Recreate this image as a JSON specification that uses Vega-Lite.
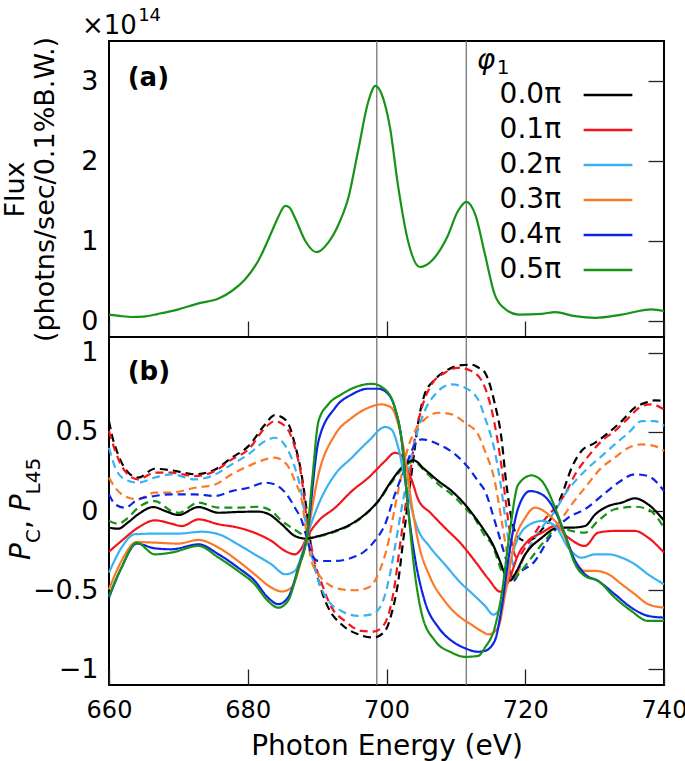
{
"$schema": "https://vega.github.io/schema/vega-lite/v6.json",
"padding": {"left": 0, "top": 6, "right": 3, "bottom": 0},
"background": "white",
"spacing": 0,
"bounds": "flush",
"config": {
  "font": "DejaVu Sans",
  "view": {"stroke": "black", "strokeWidth": 2},
  "axis": {"domain": false, "ticks": false, "grid": true, "gridColor": "#222222", "gridWidth": 1.3, "gridOpacity": 1, "labelFontSize": 27, "labelColor": "black", "titleFontWeight": "normal", "titleColor": "black", "labelFlush": false, "labelOverlap": false}
},
"resolve": {"legend": {"color": "independent", "strokeDash": "independent"}},
"datasets": {
  "vl": [{"e": 698.6}, {"e": 711.5}],
  "flux": [
    {"p":"0.5π","e":660.0,"f":0.08},{"p":"0.5π","e":661.5,"f":0.065},{"p":"0.5π","e":663.3,"f":0.05},{"p":"0.5π","e":665.0,"f":0.055},{"p":"0.5π","e":667.1,"f":0.09},{"p":"0.5π","e":670.0,"f":0.146},{"p":"0.5π","e":672.9,"f":0.22},{"p":"0.5π","e":675.8,"f":0.28},{"p":"0.5π","e":677.7,"f":0.375},{"p":"0.5π","e":679.6,"f":0.52},{"p":"0.5π","e":681.5,"f":0.75},{"p":"0.5π","e":683.5,"f":1.125},{"p":"0.5π","e":684.5,"f":1.32},{"p":"0.5π","e":685.4,"f":1.44},{"p":"0.5π","e":686.0,"f":1.42},{"p":"0.5π","e":686.8,"f":1.29},{"p":"0.5π","e":688.3,"f":1.0},{"p":"0.5π","e":689.9,"f":0.86},{"p":"0.5π","e":691.6,"f":0.98},{"p":"0.5π","e":693.1,"f":1.21},{"p":"0.5π","e":694.5,"f":1.54},{"p":"0.5π","e":695.9,"f":2.125},{"p":"0.5π","e":697.4,"f":2.75},{"p":"0.5π","e":698.4,"f":2.94},{"p":"0.5π","e":699.5,"f":2.79},{"p":"0.5π","e":700.5,"f":2.42},{"p":"0.5π","e":701.7,"f":1.67},{"p":"0.5π","e":703.1,"f":1.0},{"p":"0.5π","e":704.8,"f":0.675},{"p":"0.5π","e":706.7,"f":0.77},{"p":"0.5π","e":708.7,"f":1.04},{"p":"0.5π","e":710.3,"f":1.375},{"p":"0.5π","e":711.5,"f":1.49},{"p":"0.5π","e":712.8,"f":1.33},{"p":"0.5π","e":714.2,"f":0.83},{"p":"0.5π","e":715.6,"f":0.33},{"p":"0.5π","e":717.1,"f":0.15},{"p":"0.5π","e":719.0,"f":0.08},{"p":"0.5π","e":722.4,"f":0.09},{"p":"0.5π","e":724.3,"f":0.11},{"p":"0.5π","e":727.2,"f":0.06},{"p":"0.5π","e":730.1,"f":0.04},{"p":"0.5π","e":733.9,"f":0.08},{"p":"0.5π","e":738.2,"f":0.145},{"p":"0.5π","e":740.0,"f":0.125}
  ],
  "pol": [
    {"p":"0.0π","k":"L45","e":660,"v":0.568},{"p":"0.0π","k":"L45","e":660.4,"v":0.484},{"p":"0.0π","k":"L45","e":661.3,"v":0.358},{"p":"0.0π","k":"L45","e":662.8,"v":0.242},{"p":"0.0π","k":"L45","e":664.2,"v":0.211},{"p":"0.0π","k":"L45","e":666.6,"v":0.267},{"p":"0.0π","k":"L45","e":669,"v":0.257},{"p":"0.0π","k":"L45","e":672.4,"v":0.232},{"p":"0.0π","k":"L45","e":675.3,"v":0.263},{"p":"0.0π","k":"L45","e":677.7,"v":0.337},{"p":"0.0π","k":"L45","e":680.1,"v":0.41},{"p":"0.0π","k":"L45","e":682.5,"v":0.547},{"p":"0.0π","k":"L45","e":683.9,"v":0.606},{"p":"0.0π","k":"L45","e":685.6,"v":0.57},{"p":"0.0π","k":"L45","e":686.8,"v":0.42},{"p":"0.0π","k":"L45","e":687.8,"v":0.22},{"p":"0.0π","k":"L45","e":688.5,"v":0.0},{"p":"0.0π","k":"L45","e":689.2,"v":-0.25},{"p":"0.0π","k":"L45","e":690.2,"v":-0.44},{"p":"0.0π","k":"L45","e":691.6,"v":-0.611},{"p":"0.0π","k":"L45","e":693.5,"v":-0.716},{"p":"0.0π","k":"L45","e":695.9,"v":-0.779},{"p":"0.0π","k":"L45","e":698.1,"v":-0.8},{"p":"0.0π","k":"L45","e":699.8,"v":-0.758},{"p":"0.0π","k":"L45","e":700.7,"v":-0.653},{"p":"0.0π","k":"L45","e":701.7,"v":-0.442},{"p":"0.0π","k":"L45","e":702.4,"v":-0.189},{"p":"0.0π","k":"L45","e":703.1,"v":0.063},{"p":"0.0π","k":"L45","e":703.9,"v":0.337},{"p":"0.0π","k":"L45","e":704.6,"v":0.568},{"p":"0.0π","k":"L45","e":705.5,"v":0.737},{"p":"0.0π","k":"L45","e":707,"v":0.832},{"p":"0.0π","k":"L45","e":708.9,"v":0.895},{"p":"0.0π","k":"L45","e":710.8,"v":0.922},{"p":"0.0π","k":"L45","e":712.3,"v":0.925},{"p":"0.0π","k":"L45","e":713.3,"v":0.905},{"p":"0.0π","k":"L45","e":714.2,"v":0.874},{"p":"0.0π","k":"L45","e":715.6,"v":0.68},{"p":"0.0π","k":"L45","e":716.6,"v":0.45},{"p":"0.0π","k":"L45","e":717.2,"v":0.2},{"p":"0.0π","k":"L45","e":718,"v":-0.042},{"p":"0.0π","k":"L45","e":719,"v":-0.168},{"p":"0.0π","k":"L45","e":720,"v":-0.189},{"p":"0.0π","k":"L45","e":721.4,"v":-0.168},{"p":"0.0π","k":"L45","e":722.4,"v":-0.116},{"p":"0.0π","k":"L45","e":723.8,"v":-0.042},{"p":"0.0π","k":"L45","e":725.3,"v":0.105},{"p":"0.0π","k":"L45","e":726.7,"v":0.274},{"p":"0.0π","k":"L45","e":728.1,"v":0.379},{"p":"0.0π","k":"L45","e":730.1,"v":0.432},{"p":"0.0π","k":"L45","e":732,"v":0.495},{"p":"0.0π","k":"L45","e":733.9,"v":0.568},{"p":"0.0π","k":"L45","e":735.8,"v":0.653},{"p":"0.0π","k":"L45","e":737.3,"v":0.684},{"p":"0.0π","k":"L45","e":738.7,"v":0.699},{"p":"0.0π","k":"L45","e":740,"v":0.695},
    {"p":"0.1π","k":"L45","e":660,"v":0.505},{"p":"0.1π","k":"L45","e":660.9,"v":0.379},{"p":"0.1π","k":"L45","e":662.3,"v":0.253},{"p":"0.1π","k":"L45","e":664.2,"v":0.2},{"p":"0.1π","k":"L45","e":666.6,"v":0.242},{"p":"0.1π","k":"L45","e":669,"v":0.242},{"p":"0.1π","k":"L45","e":672.4,"v":0.221},{"p":"0.1π","k":"L45","e":675.3,"v":0.253},{"p":"0.1π","k":"L45","e":677.7,"v":0.326},{"p":"0.1π","k":"L45","e":680.1,"v":0.389},{"p":"0.1π","k":"L45","e":682.5,"v":0.526},{"p":"0.1π","k":"L45","e":683.9,"v":0.568},{"p":"0.1π","k":"L45","e":685.6,"v":0.526},{"p":"0.1π","k":"L45","e":686.8,"v":0.4},{"p":"0.1π","k":"L45","e":687.8,"v":0.2},{"p":"0.1π","k":"L45","e":688.5,"v":-0.05},{"p":"0.1π","k":"L45","e":689.5,"v":-0.295},{"p":"0.1π","k":"L45","e":690.7,"v":-0.463},{"p":"0.1π","k":"L45","e":692.1,"v":-0.611},{"p":"0.1π","k":"L45","e":694,"v":-0.695},{"p":"0.1π","k":"L45","e":696.4,"v":-0.758},{"p":"0.1π","k":"L45","e":698.1,"v":-0.762},{"p":"0.1π","k":"L45","e":699.3,"v":-0.737},{"p":"0.1π","k":"L45","e":700.3,"v":-0.653},{"p":"0.1π","k":"L45","e":701.2,"v":-0.463},{"p":"0.1π","k":"L45","e":701.9,"v":-0.232},{"p":"0.1π","k":"L45","e":702.7,"v":0.021},{"p":"0.1π","k":"L45","e":703.4,"v":0.232},{"p":"0.1π","k":"L45","e":704.1,"v":0.463},{"p":"0.1π","k":"L45","e":705.1,"v":0.653},{"p":"0.1π","k":"L45","e":706.5,"v":0.8},{"p":"0.1π","k":"L45","e":708.4,"v":0.874},{"p":"0.1π","k":"L45","e":710.3,"v":0.905},{"p":"0.1π","k":"L45","e":712.3,"v":0.884},{"p":"0.1π","k":"L45","e":714.2,"v":0.78},{"p":"0.1π","k":"L45","e":715.6,"v":0.547},{"p":"0.1π","k":"L45","e":716.6,"v":0.274},{"p":"0.1π","k":"L45","e":717.3,"v":0.021},{"p":"0.1π","k":"L45","e":718,"v":-0.189},{"p":"0.1π","k":"L45","e":718.8,"v":-0.295},{"p":"0.1π","k":"L45","e":720,"v":-0.232},{"p":"0.1π","k":"L45","e":722.4,"v":-0.074},{"p":"0.1π","k":"L45","e":724.3,"v":0.021},{"p":"0.1π","k":"L45","e":725.7,"v":0.105},{"p":"0.1π","k":"L45","e":727.2,"v":0.232},{"p":"0.1π","k":"L45","e":729.1,"v":0.347},{"p":"0.1π","k":"L45","e":731,"v":0.442},{"p":"0.1π","k":"L45","e":732.9,"v":0.505},{"p":"0.1π","k":"L45","e":734.9,"v":0.589},{"p":"0.1π","k":"L45","e":736.8,"v":0.663},{"p":"0.1π","k":"L45","e":738.2,"v":0.674},{"p":"0.1π","k":"L45","e":740,"v":0.642},
    {"p":"0.2π","k":"L45","e":660,"v":0.4},{"p":"0.2π","k":"L45","e":660.9,"v":0.274},{"p":"0.2π","k":"L45","e":662.3,"v":0.2},{"p":"0.2π","k":"L45","e":664.2,"v":0.179},{"p":"0.2π","k":"L45","e":666.6,"v":0.211},{"p":"0.2π","k":"L45","e":669,"v":0.232},{"p":"0.2π","k":"L45","e":672.4,"v":0.2},{"p":"0.2π","k":"L45","e":674.8,"v":0.221},{"p":"0.2π","k":"L45","e":677.7,"v":0.295},{"p":"0.2π","k":"L45","e":680.1,"v":0.358},{"p":"0.2π","k":"L45","e":682.5,"v":0.442},{"p":"0.2π","k":"L45","e":683.9,"v":0.463},{"p":"0.2π","k":"L45","e":685.6,"v":0.4},{"p":"0.2π","k":"L45","e":686.8,"v":0.274},{"p":"0.2π","k":"L45","e":687.8,"v":0.1},{"p":"0.2π","k":"L45","e":688.5,"v":-0.12},{"p":"0.2π","k":"L45","e":689.2,"v":-0.274},{"p":"0.2π","k":"L45","e":690.2,"v":-0.442},{"p":"0.2π","k":"L45","e":691.6,"v":-0.568},{"p":"0.2π","k":"L45","e":693.5,"v":-0.632},{"p":"0.2π","k":"L45","e":695.9,"v":-0.663},{"p":"0.2π","k":"L45","e":697.9,"v":-0.653},{"p":"0.2π","k":"L45","e":699.3,"v":-0.589},{"p":"0.2π","k":"L45","e":700.3,"v":-0.442},{"p":"0.2π","k":"L45","e":701.2,"v":-0.232},{"p":"0.2π","k":"L45","e":702.2,"v":0.021},{"p":"0.2π","k":"L45","e":703.1,"v":0.232},{"p":"0.2π","k":"L45","e":704.1,"v":0.442},{"p":"0.2π","k":"L45","e":705.5,"v":0.632},{"p":"0.2π","k":"L45","e":707,"v":0.737},{"p":"0.2π","k":"L45","e":709.4,"v":0.8},{"p":"0.2π","k":"L45","e":711.3,"v":0.779},{"p":"0.2π","k":"L45","e":713.2,"v":0.705},{"p":"0.2π","k":"L45","e":714.2,"v":0.589},{"p":"0.2π","k":"L45","e":715.6,"v":0.379},{"p":"0.2π","k":"L45","e":716.6,"v":0.126},{"p":"0.2π","k":"L45","e":717.3,"v":-0.105},{"p":"0.2π","k":"L45","e":718,"v":-0.295},{"p":"0.2π","k":"L45","e":718.8,"v":-0.379},{"p":"0.2π","k":"L45","e":720,"v":-0.274},{"p":"0.2π","k":"L45","e":722.4,"v":-0.105},{"p":"0.2π","k":"L45","e":724.3,"v":0.0},{"p":"0.2π","k":"L45","e":725.7,"v":0.105},{"p":"0.2π","k":"L45","e":727.2,"v":0.189},{"p":"0.2π","k":"L45","e":729.1,"v":0.274},{"p":"0.2π","k":"L45","e":731,"v":0.347},{"p":"0.2π","k":"L45","e":732.9,"v":0.421},{"p":"0.2π","k":"L45","e":734.9,"v":0.495},{"p":"0.2π","k":"L45","e":736.8,"v":0.568},{"p":"0.2π","k":"L45","e":738.7,"v":0.568},{"p":"0.2π","k":"L45","e":740,"v":0.537},
    {"p":"0.3π","k":"L45","e":660,"v":0.211},{"p":"0.3π","k":"L45","e":660.9,"v":0.147},{"p":"0.3π","k":"L45","e":662.8,"v":0.084},{"p":"0.3π","k":"L45","e":664.2,"v":0.074},{"p":"0.3π","k":"L45","e":666.6,"v":0.116},{"p":"0.3π","k":"L45","e":669,"v":0.116},{"p":"0.3π","k":"L45","e":672.4,"v":0.147},{"p":"0.3π","k":"L45","e":675.3,"v":0.168},{"p":"0.3π","k":"L45","e":677.7,"v":0.232},{"p":"0.3π","k":"L45","e":680.1,"v":0.284},{"p":"0.3π","k":"L45","e":682.5,"v":0.326},{"p":"0.3π","k":"L45","e":683.9,"v":0.337},{"p":"0.3π","k":"L45","e":685.6,"v":0.295},{"p":"0.3π","k":"L45","e":686.8,"v":0.189},{"p":"0.3π","k":"L45","e":687.8,"v":0.063},{"p":"0.3π","k":"L45","e":688.5,"v":-0.15},{"p":"0.3π","k":"L45","e":689.2,"v":-0.316},{"p":"0.3π","k":"L45","e":690.2,"v":-0.4},{"p":"0.3π","k":"L45","e":691.6,"v":-0.463},{"p":"0.3π","k":"L45","e":693.5,"v":-0.495},{"p":"0.3π","k":"L45","e":695.5,"v":-0.501},{"p":"0.3π","k":"L45","e":697.4,"v":-0.484},{"p":"0.3π","k":"L45","e":698.8,"v":-0.4},{"p":"0.3π","k":"L45","e":700.3,"v":-0.189},{"p":"0.3π","k":"L45","e":701.2,"v":0.021},{"p":"0.3π","k":"L45","e":702.2,"v":0.232},{"p":"0.3π","k":"L45","e":703.1,"v":0.4},{"p":"0.3π","k":"L45","e":704.1,"v":0.505},{"p":"0.3π","k":"L45","e":705.5,"v":0.579},{"p":"0.3π","k":"L45","e":707.5,"v":0.621},{"p":"0.3π","k":"L45","e":709.4,"v":0.611},{"p":"0.3π","k":"L45","e":711.3,"v":0.558},{"p":"0.3π","k":"L45","e":713.2,"v":0.484},{"p":"0.3π","k":"L45","e":714.2,"v":0.379},{"p":"0.3π","k":"L45","e":715.6,"v":0.189},{"p":"0.3π","k":"L45","e":716.6,"v":-0.063},{"p":"0.3π","k":"L45","e":717.6,"v":-0.316},{"p":"0.3π","k":"L45","e":718.3,"v":-0.432},{"p":"0.3π","k":"L45","e":720,"v":-0.274},{"p":"0.3π","k":"L45","e":722.4,"v":-0.168},{"p":"0.3π","k":"L45","e":724.8,"v":-0.074},{"p":"0.3π","k":"L45","e":726.7,"v":0.042},{"p":"0.3π","k":"L45","e":728.6,"v":0.147},{"p":"0.3π","k":"L45","e":731,"v":0.274},{"p":"0.3π","k":"L45","e":732.9,"v":0.337},{"p":"0.3π","k":"L45","e":734.9,"v":0.4},{"p":"0.3π","k":"L45","e":736.8,"v":0.421},{"p":"0.3π","k":"L45","e":738.7,"v":0.41},{"p":"0.3π","k":"L45","e":740,"v":0.379},
    {"p":"0.4π","k":"L45","e":660,"v":0.105},{"p":"0.4π","k":"L45","e":660.9,"v":0.042},{"p":"0.4π","k":"L45","e":662.3,"v":0.021},{"p":"0.4π","k":"L45","e":664.2,"v":0.074},{"p":"0.4π","k":"L45","e":666.6,"v":0.095},{"p":"0.4π","k":"L45","e":669,"v":0.105},{"p":"0.4π","k":"L45","e":672.4,"v":0.105},{"p":"0.4π","k":"L45","e":675.3,"v":0.095},{"p":"0.4π","k":"L45","e":677.7,"v":0.126},{"p":"0.4π","k":"L45","e":680.1,"v":0.147},{"p":"0.4π","k":"L45","e":682.5,"v":0.179},{"p":"0.4π","k":"L45","e":683.9,"v":0.168},{"p":"0.4π","k":"L45","e":685.4,"v":0.116},{"p":"0.4π","k":"L45","e":686.8,"v":0.021},{"p":"0.4π","k":"L45","e":687.8,"v":-0.063},{"p":"0.4π","k":"L45","e":688.5,"v":-0.168},{"p":"0.4π","k":"L45","e":689.2,"v":-0.274},{"p":"0.4π","k":"L45","e":690.2,"v":-0.316},{"p":"0.4π","k":"L45","e":692.6,"v":-0.316},{"p":"0.4π","k":"L45","e":695,"v":-0.295},{"p":"0.4π","k":"L45","e":696.9,"v":-0.253},{"p":"0.4π","k":"L45","e":698.3,"v":-0.189},{"p":"0.4π","k":"L45","e":699.8,"v":-0.084},{"p":"0.4π","k":"L45","e":701.2,"v":0.105},{"p":"0.4π","k":"L45","e":702.7,"v":0.274},{"p":"0.4π","k":"L45","e":704.1,"v":0.421},{"p":"0.4π","k":"L45","e":705.1,"v":0.453},{"p":"0.4π","k":"L45","e":707.5,"v":0.421},{"p":"0.4π","k":"L45","e":709.9,"v":0.358},{"p":"0.4π","k":"L45","e":711.8,"v":0.274},{"p":"0.4π","k":"L45","e":713.2,"v":0.189},{"p":"0.4π","k":"L45","e":714.2,"v":0.126},{"p":"0.4π","k":"L45","e":715.6,"v":-0.063},{"p":"0.4π","k":"L45","e":716.6,"v":-0.211},{"p":"0.4π","k":"L45","e":717.6,"v":-0.358},{"p":"0.4π","k":"L45","e":718.3,"v":-0.442},{"p":"0.4π","k":"L45","e":719,"v":-0.4},{"p":"0.4π","k":"L45","e":721.4,"v":-0.316},{"p":"0.4π","k":"L45","e":723.8,"v":-0.147},{"p":"0.4π","k":"L45","e":726.2,"v":-0.042},{"p":"0.4π","k":"L45","e":728.6,"v":0.011},{"p":"0.4π","k":"L45","e":731,"v":0.095},{"p":"0.4π","k":"L45","e":733.4,"v":0.179},{"p":"0.4π","k":"L45","e":735.8,"v":0.232},{"p":"0.4π","k":"L45","e":737.7,"v":0.221},{"p":"0.4π","k":"L45","e":740,"v":0.126},
    {"p":"0.5π","k":"L45","e":660,"v":-0.063},{"p":"0.5π","k":"L45","e":661.3,"v":-0.08},{"p":"0.5π","k":"L45","e":662.8,"v":-0.04},{"p":"0.5π","k":"L45","e":664.2,"v":0.021},{"p":"0.5π","k":"L45","e":666.6,"v":0.063},{"p":"0.5π","k":"L45","e":669,"v":0.0},{"p":"0.5π","k":"L45","e":670,"v":-0.011},{"p":"0.5π","k":"L45","e":672.9,"v":0.053},{"p":"0.5π","k":"L45","e":675.8,"v":0.021},{"p":"0.5π","k":"L45","e":678.6,"v":0.021},{"p":"0.5π","k":"L45","e":681.5,"v":0.027},{"p":"0.5π","k":"L45","e":683.4,"v":0.0},{"p":"0.5π","k":"L45","e":684.9,"v":-0.063},{"p":"0.5π","k":"L45","e":686.3,"v":-0.105},{"p":"0.5π","k":"L45","e":687.8,"v":-0.147},{"p":"0.5π","k":"L45","e":688.5,"v":-0.168},{"p":"0.5π","k":"L45","e":690.2,"v":-0.162},{"p":"0.5π","k":"L45","e":692.6,"v":-0.131},{"p":"0.5π","k":"L45","e":695,"v":-0.084},{"p":"0.5π","k":"L45","e":696.9,"v":-0.025},{"p":"0.5π","k":"L45","e":698.8,"v":0.059},{"p":"0.5π","k":"L45","e":700.7,"v":0.179},{"p":"0.5π","k":"L45","e":702.2,"v":0.263},{"p":"0.5π","k":"L45","e":703.9,"v":0.312},{"p":"0.5π","k":"L45","e":705.5,"v":0.253},{"p":"0.5π","k":"L45","e":707.5,"v":0.168},{"p":"0.5π","k":"L45","e":709.4,"v":0.105},{"p":"0.5π","k":"L45","e":711.3,"v":0.021},{"p":"0.5π","k":"L45","e":712.8,"v":-0.053},{"p":"0.5π","k":"L45","e":714.2,"v":-0.158},{"p":"0.5π","k":"L45","e":715.2,"v":-0.211},{"p":"0.5π","k":"L45","e":716.6,"v":-0.379},{"p":"0.5π","k":"L45","e":717.6,"v":-0.442},{"p":"0.5π","k":"L45","e":719,"v":-0.4},{"p":"0.5π","k":"L45","e":720.9,"v":-0.295},{"p":"0.5π","k":"L45","e":722.8,"v":-0.189},{"p":"0.5π","k":"L45","e":724.8,"v":-0.105},{"p":"0.5π","k":"L45","e":726.7,"v":-0.126},{"p":"0.5π","k":"L45","e":728.6,"v":-0.137},{"p":"0.5π","k":"L45","e":730.5,"v":-0.063},{"p":"0.5π","k":"L45","e":732.9,"v":0.011},{"p":"0.5π","k":"L45","e":735.8,"v":0.027},{"p":"0.5π","k":"L45","e":737.7,"v":0.011},{"p":"0.5π","k":"L45","e":740,"v":-0.105},
    {"p":"0.0π","k":"C","e":660,"v":-0.105},{"p":"0.0π","k":"C","e":661.3,"v":-0.112},{"p":"0.0π","k":"C","e":662.8,"v":-0.07},{"p":"0.0π","k":"C","e":664.2,"v":-0.021},{"p":"0.0π","k":"C","e":666.4,"v":0.025},{"p":"0.0π","k":"C","e":668.1,"v":0.0},{"p":"0.0π","k":"C","e":670,"v":-0.025},{"p":"0.0π","k":"C","e":672.9,"v":0.025},{"p":"0.0π","k":"C","e":675.8,"v":-0.011},{"p":"0.0π","k":"C","e":678.6,"v":-0.006},{"p":"0.0π","k":"C","e":681.5,"v":-0.004},{"p":"0.0π","k":"C","e":682.9,"v":-0.017},{"p":"0.0π","k":"C","e":684.9,"v":-0.084},{"p":"0.0π","k":"C","e":686.8,"v":-0.158},{"p":"0.0π","k":"C","e":688.5,"v":-0.175},{"p":"0.0π","k":"C","e":690.2,"v":-0.158},{"p":"0.0π","k":"C","e":692.6,"v":-0.126},{"p":"0.0π","k":"C","e":695,"v":-0.08},{"p":"0.0π","k":"C","e":696.9,"v":-0.021},{"p":"0.0π","k":"C","e":698.8,"v":0.063},{"p":"0.0π","k":"C","e":700.7,"v":0.189},{"p":"0.0π","k":"C","e":702.2,"v":0.274},{"p":"0.0π","k":"C","e":703.9,"v":0.32},{"p":"0.0π","k":"C","e":705.5,"v":0.263},{"p":"0.0π","k":"C","e":707.5,"v":0.189},{"p":"0.0π","k":"C","e":709.4,"v":0.126},{"p":"0.0π","k":"C","e":711.3,"v":0.042},{"p":"0.0π","k":"C","e":712.8,"v":-0.042},{"p":"0.0π","k":"C","e":714.2,"v":-0.13},{"p":"0.0π","k":"C","e":715.2,"v":-0.2},{"p":"0.0π","k":"C","e":716.2,"v":-0.3},{"p":"0.0π","k":"C","e":717.2,"v":-0.41},{"p":"0.0π","k":"C","e":717.8,"v":-0.44},{"p":"0.0π","k":"C","e":718.5,"v":-0.4},{"p":"0.0π","k":"C","e":720,"v":-0.274},{"p":"0.0π","k":"C","e":722.4,"v":-0.168},{"p":"0.0π","k":"C","e":724.8,"v":-0.105},{"p":"0.0π","k":"C","e":726.7,"v":-0.105},{"p":"0.0π","k":"C","e":728.6,"v":-0.095},{"p":"0.0π","k":"C","e":730.1,"v":-0.021},{"p":"0.0π","k":"C","e":732,"v":0.032},{"p":"0.0π","k":"C","e":733.9,"v":0.053},{"p":"0.0π","k":"C","e":735.8,"v":0.08},{"p":"0.0π","k":"C","e":737.7,"v":0.042},{"p":"0.0π","k":"C","e":740,"v":-0.06},
    {"p":"0.1π","k":"C","e":660,"v":-0.257},{"p":"0.1π","k":"C","e":661.8,"v":-0.189},{"p":"0.1π","k":"C","e":664.2,"v":-0.105},{"p":"0.1π","k":"C","e":666.6,"v":-0.059},{"p":"0.1π","k":"C","e":669,"v":-0.08},{"p":"0.1π","k":"C","e":670.5,"v":-0.095},{"p":"0.1π","k":"C","e":672.9,"v":-0.053},{"p":"0.1π","k":"C","e":675.8,"v":-0.084},{"p":"0.1π","k":"C","e":678.6,"v":-0.105},{"p":"0.1π","k":"C","e":681.5,"v":-0.147},{"p":"0.1π","k":"C","e":683.4,"v":-0.189},{"p":"0.1π","k":"C","e":685.4,"v":-0.253},{"p":"0.1π","k":"C","e":686.8,"v":-0.274},{"p":"0.1π","k":"C","e":687.8,"v":-0.232},{"p":"0.1π","k":"C","e":688.5,"v":-0.168},{"p":"0.1π","k":"C","e":690.2,"v":-0.063},{"p":"0.1π","k":"C","e":692.6,"v":0.021},{"p":"0.1π","k":"C","e":695,"v":0.126},{"p":"0.1π","k":"C","e":697.4,"v":0.211},{"p":"0.1π","k":"C","e":699.8,"v":0.316},{"p":"0.1π","k":"C","e":701.2,"v":0.368},{"p":"0.1π","k":"C","e":702.2,"v":0.35},{"p":"0.1π","k":"C","e":703.1,"v":0.25},{"p":"0.1π","k":"C","e":703.6,"v":0.2},{"p":"0.1π","k":"C","e":704.6,"v":0.07},{"p":"0.1π","k":"C","e":706.3,"v":-0.01},{"p":"0.1π","k":"C","e":708.4,"v":-0.105},{"p":"0.1π","k":"C","e":710.8,"v":-0.21},{"p":"0.1π","k":"C","e":712.8,"v":-0.32},{"p":"0.1π","k":"C","e":714.7,"v":-0.43},{"p":"0.1π","k":"C","e":716.4,"v":-0.51},{"p":"0.1π","k":"C","e":717.2,"v":-0.48},{"p":"0.1π","k":"C","e":717.8,"v":-0.42},{"p":"0.1π","k":"C","e":719,"v":-0.274},{"p":"0.1π","k":"C","e":720.4,"v":-0.189},{"p":"0.1π","k":"C","e":722.4,"v":-0.137},{"p":"0.1π","k":"C","e":724.3,"v":-0.095},{"p":"0.1π","k":"C","e":726.2,"v":-0.168},{"p":"0.1π","k":"C","e":728.6,"v":-0.221},{"p":"0.1π","k":"C","e":730.5,"v":-0.137},{"p":"0.1π","k":"C","e":732.9,"v":-0.126},{"p":"0.1π","k":"C","e":735.8,"v":-0.126},{"p":"0.1π","k":"C","e":737.7,"v":-0.168},{"p":"0.1π","k":"C","e":740,"v":-0.263},
    {"p":"0.2π","k":"C","e":660,"v":-0.389},{"p":"0.2π","k":"C","e":661.8,"v":-0.232},{"p":"0.2π","k":"C","e":663.7,"v":-0.147},{"p":"0.2π","k":"C","e":666.6,"v":-0.143},{"p":"0.2π","k":"C","e":670,"v":-0.143},{"p":"0.2π","k":"C","e":673.4,"v":-0.131},{"p":"0.2π","k":"C","e":675.8,"v":-0.147},{"p":"0.2π","k":"C","e":678.6,"v":-0.211},{"p":"0.2π","k":"C","e":681,"v":-0.274},{"p":"0.2π","k":"C","e":683.4,"v":-0.337},{"p":"0.2π","k":"C","e":685.4,"v":-0.4},{"p":"0.2π","k":"C","e":686.8,"v":-0.379},{"p":"0.2π","k":"C","e":687.8,"v":-0.274},{"p":"0.2π","k":"C","e":688.5,"v":-0.168},{"p":"0.2π","k":"C","e":690.2,"v":0.042},{"p":"0.2π","k":"C","e":692.6,"v":0.232},{"p":"0.2π","k":"C","e":695,"v":0.337},{"p":"0.2π","k":"C","e":697.4,"v":0.442},{"p":"0.2π","k":"C","e":699.8,"v":0.531},{"p":"0.2π","k":"C","e":700.7,"v":0.516},{"p":"0.2π","k":"C","e":701.7,"v":0.4},{"p":"0.2π","k":"C","e":702.7,"v":0.189},{"p":"0.2π","k":"C","e":704.3,"v":-0.09},{"p":"0.2π","k":"C","e":706.3,"v":-0.23},{"p":"0.2π","k":"C","e":708.4,"v":-0.337},{"p":"0.2π","k":"C","e":710.6,"v":-0.45},{"p":"0.2π","k":"C","e":712.3,"v":-0.52},{"p":"0.2π","k":"C","e":714.2,"v":-0.6},{"p":"0.2π","k":"C","e":715.4,"v":-0.655},{"p":"0.2π","k":"C","e":716.6,"v":-0.589},{"p":"0.2π","k":"C","e":718,"v":-0.295},{"p":"0.2π","k":"C","e":720,"v":-0.105},{"p":"0.2π","k":"C","e":722.4,"v":-0.063},{"p":"0.2π","k":"C","e":724.3,"v":-0.095},{"p":"0.2π","k":"C","e":726.2,"v":-0.232},{"p":"0.2π","k":"C","e":728.1,"v":-0.295},{"p":"0.2π","k":"C","e":730.1,"v":-0.274},{"p":"0.2π","k":"C","e":732,"v":-0.274},{"p":"0.2π","k":"C","e":733.9,"v":-0.295},{"p":"0.2π","k":"C","e":735.8,"v":-0.337},{"p":"0.2π","k":"C","e":737.7,"v":-0.4},{"p":"0.2π","k":"C","e":740,"v":-0.463},
    {"p":"0.3π","k":"C","e":660,"v":-0.495},{"p":"0.3π","k":"C","e":661.8,"v":-0.316},{"p":"0.3π","k":"C","e":664,"v":-0.196},{"p":"0.3π","k":"C","e":666.6,"v":-0.2},{"p":"0.3π","k":"C","e":670,"v":-0.206},{"p":"0.3π","k":"C","e":672.9,"v":-0.183},{"p":"0.3π","k":"C","e":675.8,"v":-0.232},{"p":"0.3π","k":"C","e":678.6,"v":-0.316},{"p":"0.3π","k":"C","e":681,"v":-0.4},{"p":"0.3π","k":"C","e":683.4,"v":-0.484},{"p":"0.3π","k":"C","e":684.9,"v":-0.509},{"p":"0.3π","k":"C","e":686.3,"v":-0.484},{"p":"0.3π","k":"C","e":687.8,"v":-0.295},{"p":"0.3π","k":"C","e":688.5,"v":-0.168},{"p":"0.3π","k":"C","e":690.2,"v":0.232},{"p":"0.3π","k":"C","e":692.6,"v":0.484},{"p":"0.3π","k":"C","e":695,"v":0.589},{"p":"0.3π","k":"C","e":697.4,"v":0.653},{"p":"0.3π","k":"C","e":699.3,"v":0.674},{"p":"0.3π","k":"C","e":700.7,"v":0.653},{"p":"0.3π","k":"C","e":701.7,"v":0.547},{"p":"0.3π","k":"C","e":702.7,"v":0.337},{"p":"0.3π","k":"C","e":703.6,"v":0.05},{"p":"0.3π","k":"C","e":704.6,"v":-0.2},{"p":"0.3π","k":"C","e":706.3,"v":-0.42},{"p":"0.3π","k":"C","e":708.4,"v":-0.57},{"p":"0.3π","k":"C","e":710.3,"v":-0.66},{"p":"0.3π","k":"C","e":712.3,"v":-0.72},{"p":"0.3π","k":"C","e":713.7,"v":-0.76},{"p":"0.3π","k":"C","e":714.7,"v":-0.78},{"p":"0.3π","k":"C","e":716.1,"v":-0.737},{"p":"0.3π","k":"C","e":717.1,"v":-0.526},{"p":"0.3π","k":"C","e":718.5,"v":-0.189},{"p":"0.3π","k":"C","e":720,"v":-0.042},{"p":"0.3π","k":"C","e":721.4,"v":0.021},{"p":"0.3π","k":"C","e":723.3,"v":-0.021},{"p":"0.3π","k":"C","e":725.3,"v":-0.126},{"p":"0.3π","k":"C","e":727.2,"v":-0.316},{"p":"0.3π","k":"C","e":728.6,"v":-0.379},{"p":"0.3π","k":"C","e":730.1,"v":-0.379},{"p":"0.3π","k":"C","e":732,"v":-0.4},{"p":"0.3π","k":"C","e":733.9,"v":-0.463},{"p":"0.3π","k":"C","e":735.8,"v":-0.526},{"p":"0.3π","k":"C","e":737.7,"v":-0.589},{"p":"0.3π","k":"C","e":740,"v":-0.611},
    {"p":"0.4π","k":"C","e":660,"v":-0.547},{"p":"0.4π","k":"C","e":661.8,"v":-0.358},{"p":"0.4π","k":"C","e":664,"v":-0.206},{"p":"0.4π","k":"C","e":666.6,"v":-0.236},{"p":"0.4π","k":"C","e":669,"v":-0.242},{"p":"0.4π","k":"C","e":672.9,"v":-0.211},{"p":"0.4π","k":"C","e":675.8,"v":-0.274},{"p":"0.4π","k":"C","e":678.6,"v":-0.358},{"p":"0.4π","k":"C","e":681,"v":-0.442},{"p":"0.4π","k":"C","e":682.9,"v":-0.547},{"p":"0.4π","k":"C","e":684.4,"v":-0.589},{"p":"0.4π","k":"C","e":685.8,"v":-0.547},{"p":"0.4π","k":"C","e":687.3,"v":-0.358},{"p":"0.4π","k":"C","e":688.5,"v":-0.168},{"p":"0.4π","k":"C","e":690.2,"v":0.442},{"p":"0.4π","k":"C","e":692.6,"v":0.653},{"p":"0.4π","k":"C","e":695,"v":0.737},{"p":"0.4π","k":"C","e":697.4,"v":0.773},{"p":"0.4π","k":"C","e":698.8,"v":0.773},{"p":"0.4π","k":"C","e":700.3,"v":0.737},{"p":"0.4π","k":"C","e":701.2,"v":0.653},{"p":"0.4π","k":"C","e":702.2,"v":0.442},{"p":"0.4π","k":"C","e":703.1,"v":0.021},{"p":"0.4π","k":"C","e":704.1,"v":-0.295},{"p":"0.4π","k":"C","e":705.5,"v":-0.568},{"p":"0.4π","k":"C","e":707.5,"v":-0.737},{"p":"0.4π","k":"C","e":709.4,"v":-0.821},{"p":"0.4π","k":"C","e":711.3,"v":-0.867},{"p":"0.4π","k":"C","e":713.2,"v":-0.89},{"p":"0.4π","k":"C","e":714.2,"v":-0.884},{"p":"0.4π","k":"C","e":715.6,"v":-0.821},{"p":"0.4π","k":"C","e":716.6,"v":-0.611},{"p":"0.4π","k":"C","e":717.6,"v":-0.295},{"p":"0.4π","k":"C","e":719,"v":0.021},{"p":"0.4π","k":"C","e":720.7,"v":0.126},{"p":"0.4π","k":"C","e":722.4,"v":0.105},{"p":"0.4π","k":"C","e":724.3,"v":0.0},{"p":"0.4π","k":"C","e":725.7,"v":-0.147},{"p":"0.4π","k":"C","e":727.2,"v":-0.316},{"p":"0.4π","k":"C","e":728.6,"v":-0.4},{"p":"0.4π","k":"C","e":730.5,"v":-0.442},{"p":"0.4π","k":"C","e":732.9,"v":-0.526},{"p":"0.4π","k":"C","e":735.3,"v":-0.611},{"p":"0.4π","k":"C","e":737.7,"v":-0.663},{"p":"0.4π","k":"C","e":740,"v":-0.674},
    {"p":"0.5π","k":"C","e":660,"v":-0.537},{"p":"0.5π","k":"C","e":661.8,"v":-0.358},{"p":"0.5π","k":"C","e":664,"v":-0.2},{"p":"0.5π","k":"C","e":666.6,"v":-0.274},{"p":"0.5π","k":"C","e":669,"v":-0.263},{"p":"0.5π","k":"C","e":672.9,"v":-0.221},{"p":"0.5π","k":"C","e":675.8,"v":-0.295},{"p":"0.5π","k":"C","e":678.6,"v":-0.379},{"p":"0.5π","k":"C","e":681,"v":-0.463},{"p":"0.5π","k":"C","e":682.9,"v":-0.568},{"p":"0.5π","k":"C","e":684.4,"v":-0.611},{"p":"0.5π","k":"C","e":685.8,"v":-0.568},{"p":"0.5π","k":"C","e":687.3,"v":-0.358},{"p":"0.5π","k":"C","e":688.5,"v":-0.168},{"p":"0.5π","k":"C","e":689.3,"v":0.2},{"p":"0.5π","k":"C","e":690.2,"v":0.568},{"p":"0.5π","k":"C","e":691.6,"v":0.674},{"p":"0.5π","k":"C","e":693.5,"v":0.737},{"p":"0.5π","k":"C","e":695.9,"v":0.789},{"p":"0.5π","k":"C","e":697.9,"v":0.804},{"p":"0.5π","k":"C","e":699.8,"v":0.768},{"p":"0.5π","k":"C","e":701.2,"v":0.653},{"p":"0.5π","k":"C","e":702.2,"v":0.442},{"p":"0.5π","k":"C","e":703.1,"v":0.021},{"p":"0.5π","k":"C","e":704.1,"v":-0.4},{"p":"0.5π","k":"C","e":705.1,"v":-0.653},{"p":"0.5π","k":"C","e":707,"v":-0.821},{"p":"0.5π","k":"C","e":709.4,"v":-0.895},{"p":"0.5π","k":"C","e":711.3,"v":-0.922},{"p":"0.5π","k":"C","e":713.2,"v":-0.916},{"p":"0.5π","k":"C","e":714.2,"v":-0.863},{"p":"0.5π","k":"C","e":715.6,"v":-0.737},{"p":"0.5π","k":"C","e":716.6,"v":-0.526},{"p":"0.5π","k":"C","e":717.6,"v":-0.189},{"p":"0.5π","k":"C","e":719,"v":0.168},{"p":"0.5π","k":"C","e":720.9,"v":0.225},{"p":"0.5π","k":"C","e":722.4,"v":0.189},{"p":"0.5π","k":"C","e":724.3,"v":0.021},{"p":"0.5π","k":"C","e":725.7,"v":-0.147},{"p":"0.5π","k":"C","e":727.2,"v":-0.337},{"p":"0.5π","k":"C","e":728.6,"v":-0.411},{"p":"0.5π","k":"C","e":730.5,"v":-0.442},{"p":"0.5π","k":"C","e":732.9,"v":-0.547},{"p":"0.5π","k":"C","e":735.3,"v":-0.632},{"p":"0.5π","k":"C","e":737.7,"v":-0.695},{"p":"0.5π","k":"C","e":740,"v":-0.695}
  ]
},
"vconcat": [
  {
    "width": 555, "height": 296,
    "resolve": {"axis": {"x": "independent", "y": "independent"}},
    "layer": [
      {
        "data": {"name": "vl"},
        "mark": {"type": "rule", "color": "#777777", "strokeWidth": 1.3},
        "encoding": {
          "x": {"field": "e", "type": "quantitative", "scale": {"domain": [660, 740], "nice": false, "zero": false},
                "axis": {"orient": "top", "values": [660,680,700,720,740], "labels": false, "title": null, "gridDash": [16, 3000]}},
          "y": {"datum": -0.2, "type": "quantitative", "scale": {"domain": [-0.2, 3.5], "nice": false, "zero": false},
                "axis": {"orient": "right", "values": [0,1,2,3], "labels": false, "title": null, "gridDash": [16, 3000]}},
          "y2": {"datum": 3.5}
        }
      },
      {
        "data": {"name": "vl"},
        "mark": {"type": "rule", "opacity": 0},
        "encoding": {
          "x": {"field": "e", "type": "quantitative",
                "axis": {"orient": "top", "values": [670,690,710,730], "labels": false, "title": null, "gridDash": [8, 3000]}},
          "y": {"datum": -0.2, "type": "quantitative",
                "axis": {"orient": "right", "values": [0.5,1.5,2.5,3.5], "labels": false, "title": null, "gridDash": [8, 3000]}},
          "y2": {"datum": 3.5}
        }
      },
      {
        "data": {"name": "vl"},
        "mark": {"type": "rule", "opacity": 0},
        "encoding": {
          "x": {"field": "e", "type": "quantitative",
                "axis": {"orient": "bottom", "values": [670,690,710,730], "labels": false, "title": null, "gridDash": [8, 3000]}},
          "y": {"datum": -0.2, "type": "quantitative",
                "axis": {"orient": "left", "values": [0.5,1.5,2.5,3.5], "labels": false, "title": null, "gridDash": [8, 3000]}},
          "y2": {"datum": 3.5}
        }
      },
      {
        "data": {"name": "flux"},
        "mark": {"type": "line", "strokeWidth": 2.2, "interpolate": "monotone"},
        "encoding": {
          "x": {"field": "e", "type": "quantitative",
                "axis": {"orient": "bottom", "values": [660,680,700,720,740], "labels": false, "title": null, "gridDash": [16, 3000]}},
          "y": {"field": "f", "type": "quantitative",
                "axis": {"orient": "left", "values": [0,1,2,3], "format": "d", "labelPadding": 11, "gridDash": [16, 3000],
                         "title": ["Flux", "(photns/sec/0.1%B.W.)"], "titleFontSize": 27, "titleLineHeight": 30, "titlePadding": 21}},
          "color": {"field": "p", "type": "nominal",
                    "scale": {"domain": ["0.0π","0.1π","0.2π","0.3π","0.4π","0.5π"],
                              "range": ["#000000","#f2161c","#38b2f2","#fb7a28","#0b25e6","#179317"]},
                    "legend": {"orient": "none", "legendX": 478, "legendY": 33, "title": null,
                               "symbolType": "M-1.25,0H1.25", "symbolStrokeWidth": 2.5, "symbolSize": 1521,
                               "labelFontSize": 28, "labelAlign": "right", "labelOffset": -68, "rowPadding": 0,
                               "padding": 0, "labelColor": "black"}}
        }
      },
      {
        "data": {"values": [{}]},
        "mark": {"type": "text", "text": "(a)", "fontWeight": "bold", "fontSize": 26, "align": "left", "baseline": "middle"},
        "encoding": {"x": {"datum": 662.7, "type": "quantitative", "axis": null}, "y": {"datum": 3.04, "type": "quantitative", "axis": null}}
      },
      {
        "data": {"values": [{}]},
        "mark": {"type": "text", "text": "×10", "fontSize": 26, "align": "left", "baseline": "alphabetic"},
        "encoding": {"x": {"datum": 656.1, "type": "quantitative", "axis": null}, "y": {"datum": 3.5875, "type": "quantitative", "axis": null}}
      },
      {
        "data": {"values": [{}]},
        "mark": {"type": "text", "text": "14", "fontSize": 18, "align": "left", "baseline": "alphabetic"},
        "encoding": {"x": {"datum": 664.2, "type": "quantitative", "axis": null}, "y": {"datum": 3.75, "type": "quantitative", "axis": null}}
      },
      {
        "data": {"values": [{}]},
        "mark": {"type": "text", "text": "φ", "fontSize": 28, "fontStyle": "italic", "align": "left", "baseline": "middle"},
        "encoding": {"x": {"datum": 713.0, "type": "quantitative", "axis": null}, "y": {"datum": 3.25, "type": "quantitative", "axis": null}}
      },
      {
        "data": {"values": [{}]},
        "mark": {"type": "text", "text": "1", "fontSize": 20, "align": "left", "baseline": "alphabetic"},
        "encoding": {"x": {"datum": 715.9, "type": "quantitative", "axis": null}, "y": {"datum": 3.09, "type": "quantitative", "axis": null}}
      }
    ]
  },
  {
    "width": 555, "height": 348,
    "resolve": {"axis": {"x": "independent", "y": "independent"}},
    "layer": [
      {
        "data": {"name": "vl"},
        "mark": {"type": "rule", "color": "#777777", "strokeWidth": 1.3},
        "encoding": {
          "x": {"field": "e", "type": "quantitative", "scale": {"domain": [660, 740], "nice": false, "zero": false},
                "axis": {"orient": "top", "values": [660,680,700,720,740], "labels": false, "title": null, "gridDash": [16, 3000]}},
          "y": {"datum": -1.1, "type": "quantitative", "scale": {"domain": [-1.1, 1.1], "nice": false, "zero": false},
                "axis": {"orient": "right", "values": [-1,-0.5,0,0.5,1], "labels": false, "title": null, "gridDash": [16, 3000]}},
          "y2": {"datum": 1.1}
        }
      },
      {
        "data": {"name": "vl"},
        "mark": {"type": "rule", "opacity": 0},
        "encoding": {
          "x": {"field": "e", "type": "quantitative",
                "axis": {"orient": "top", "values": [670,690,710,730], "labels": false, "title": null, "gridDash": [8, 3000]}},
          "y": {"datum": -1.1, "type": "quantitative",
                "axis": {"orient": "right", "values": [-0.9,-0.8,-0.7,-0.6,-0.4,-0.3,-0.2,-0.1,0.1,0.2,0.3,0.4,0.6,0.7,0.8,0.9], "labels": false, "title": null, "gridDash": [8, 3000]}},
          "y2": {"datum": 1.1}
        }
      },
      {
        "data": {"name": "vl"},
        "mark": {"type": "rule", "opacity": 0},
        "encoding": {
          "x": {"field": "e", "type": "quantitative",
                "axis": {"orient": "bottom", "values": [670,690,710,730], "labels": false, "title": null, "gridDash": [8, 3000]}},
          "y": {"datum": -1.1, "type": "quantitative",
                "axis": {"orient": "left", "values": [-0.9,-0.8,-0.7,-0.6,-0.4,-0.3,-0.2,-0.1,0.1,0.2,0.3,0.4,0.6,0.7,0.8,0.9], "labels": false, "title": null, "gridDash": [8, 3000]}},
          "y2": {"datum": 1.1}
        }
      },
      {
        "data": {"name": "pol"},
        "mark": {"type": "line", "strokeWidth": 2.2, "interpolate": "monotone"},
        "encoding": {
          "x": {"field": "e", "type": "quantitative",
                "axis": {"orient": "bottom", "values": [660,680,700,720,740], "format": "d", "labelFontSize": 24, "labelPadding": 13, "gridDash": [16, 3000],
                         "title": "Photon Energy (eV)", "titleFontSize": 28, "titlePadding": 10}},
          "y": {"field": "v", "type": "quantitative",
                "axis": {"orient": "left", "values": [-1,-0.5,0,0.5,1], "format": "~g", "labelPadding": 11, "gridDash": [16, 3000], "title": null}},
          "color": {"field": "p", "type": "nominal", "legend": null},
          "strokeDash": {"field": "k", "type": "nominal", "scale": {"domain": ["C", "L45"], "range": [[1, 0], [8, 5]]}, "legend": null}
        }
      },
      {
        "data": {"values": [{}]},
        "mark": {"type": "text", "text": "(b)", "fontWeight": "bold", "fontSize": 26, "align": "left", "baseline": "middle"},
        "encoding": {"x": {"datum": 662.7, "type": "quantitative", "axis": null}, "y": {"datum": 0.877, "type": "quantitative", "axis": null}}
      },
      {
        "data": {"values": [{}]},
        "mark": {"type": "text", "text": "P", "fontSize": 28, "fontStyle": "italic", "angle": 270, "align": "left", "baseline": "alphabetic"},
        "encoding": {"x": {"datum": 648.6, "type": "quantitative", "axis": null}, "y": {"datum": -0.31, "type": "quantitative", "axis": null}}
      },
      {
        "data": {"values": [{}]},
        "mark": {"type": "text", "text": "C", "fontSize": 20, "angle": 270, "align": "left", "baseline": "alphabetic"},
        "encoding": {"x": {"datum": 650.05, "type": "quantitative", "axis": null}, "y": {"datum": -0.203, "type": "quantitative", "axis": null}}
      },
      {
        "data": {"values": [{}]},
        "mark": {"type": "text", "text": ",", "fontSize": 28, "angle": 270, "align": "left", "baseline": "alphabetic"},
        "encoding": {"x": {"datum": 648.6, "type": "quantitative", "axis": null}, "y": {"datum": -0.114, "type": "quantitative", "axis": null}}
      },
      {
        "data": {"values": [{}]},
        "mark": {"type": "text", "text": "P", "fontSize": 28, "fontStyle": "italic", "angle": 270, "align": "left", "baseline": "alphabetic"},
        "encoding": {"x": {"datum": 648.6, "type": "quantitative", "axis": null}, "y": {"datum": -0.002, "type": "quantitative", "axis": null}}
      },
      {
        "data": {"values": [{}]},
        "mark": {"type": "text", "text": "L45", "fontSize": 20, "angle": 270, "align": "left", "baseline": "alphabetic"},
        "encoding": {"x": {"datum": 650.05, "type": "quantitative", "axis": null}, "y": {"datum": 0.105, "type": "quantitative", "axis": null}}
      }
    ]
  }
]
}
